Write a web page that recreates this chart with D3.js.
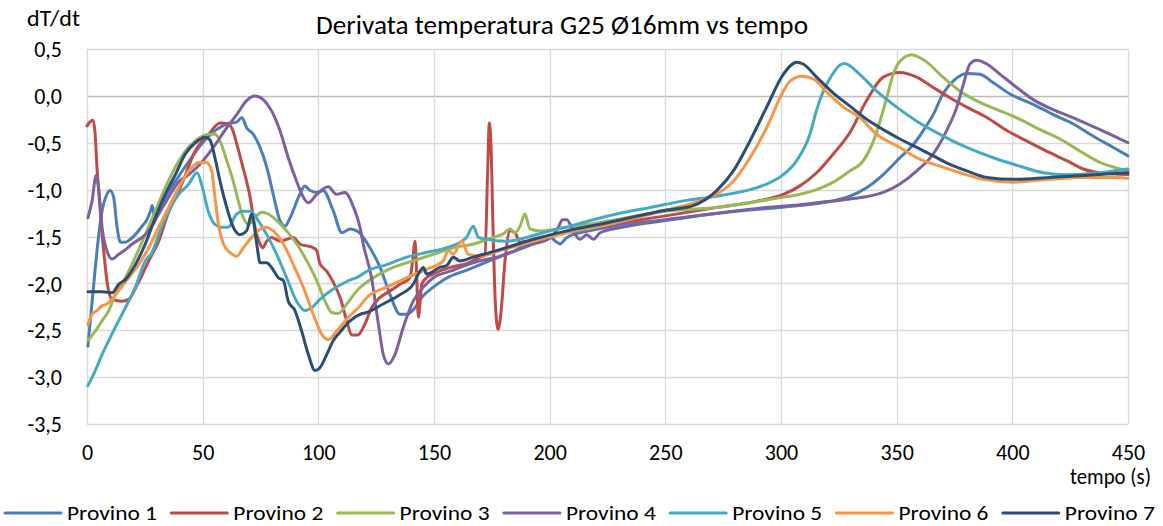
<!DOCTYPE html>
<html>
<head>
<meta charset="utf-8">
<script src="https://cdn.jsdelivr.net/npm/d3@7"></script>
<style>
  html, body { margin: 0; padding: 0; background: #fff; }
  svg { display: block; }
  text { font-family: Carlito, Calibri, "Liberation Sans Narrow", "Open Sans", sans-serif; fill: #000; }
</style>
</head>
<body>
<svg id="chart" width="1163" height="526"></svg>
<script>
// Rate of temperature change dT/dt for seven specimens, [time (s), dT/dt]
const provino1 = [[0.4,-2.67],[2,-2.25],[3.6,-1.83],[5,-1.5],[6.5,-1.23],[8.6,-1.05],[10,-1.01],[11.5,-1.08],[13,-1.40],[14.4,-1.56],[16.6,-1.56],[18.7,-1.53],[20.9,-1.48],[23.8,-1.39],[25.9,-1.32],[27.4,-1.23],[28.2,-1.17],[29.2,-1.30],[33,-1.12],[38,-0.92],[44,-0.70],[50,-0.50],[56,-0.36],[60.4,-0.30],[64.7,-0.28],[66.9,-0.23],[69,-0.34],[71.9,-0.41],[74.8,-0.55],[77.7,-0.76],[80.5,-1.05],[83.4,-1.33],[85.6,-1.39],[87.8,-1.30],[92,-1.05],[94.2,-0.96],[96.4,-1.01],[99.3,-1.03],[102.1,-1.01],[106.5,-1.23],[110.2,-1.46],[113.7,-1.42],[117.3,-1.45],[122.3,-1.62],[126.7,-1.83],[131,-2.12],[135.3,-2.33],[138.2,-2.33],[141.8,-2.26],[144.7,-2.15],[149.7,-2.04],[155,-1.95],[165,-1.85],[175,-1.75],[185,-1.65],[195,-1.52],[200,-1.50],[202.5,-1.55],[204.5,-1.58],[207,-1.52],[210,-1.48],[215,-1.45],[230,-1.38],[250,-1.32],[270,-1.26],[290,-1.21],[308,-1.17],[322.6,-1.12],[329.8,-1.07],[337,-0.98],[344.2,-0.84],[351.4,-0.66],[357.2,-0.52],[361.5,-0.37],[365.8,-0.20],[370,0.02],[374.5,0.16],[380.3,0.24],[386,0.23],[391.8,0.14],[399,0.02],[409,-0.09],[417.7,-0.20],[426.4,-0.30],[435,-0.43],[443.7,-0.55],[450,-0.64]];
const provino2 = [[0,-0.32],[1.2,-0.28],[2.6,-0.26],[3.5,-0.40],[4.3,-0.76],[5.4,-1.12],[6.5,-1.47],[7.6,-1.75],[8.6,-1.97],[10.8,-2.17],[15,-2.19],[18,-2.17],[22,-2.0],[26.7,-1.76],[31,-1.55],[35,-1.26],[41,-0.94],[46.7,-0.59],[52.6,-0.41],[57.5,-0.29],[61,-0.30],[63.2,-0.38],[64.7,-0.51],[67.5,-0.77],[70.5,-1.08],[72.6,-1.40],[74.8,-1.58],[76,-1.62],[77.7,-1.55],[79.8,-1.51],[83.4,-1.55],[89.2,-1.51],[92,-1.58],[97.8,-1.62],[99.3,-1.65],[100.7,-1.79],[103.6,-1.87],[106.5,-1.99],[109.4,-2.15],[112.3,-2.40],[114.4,-2.55],[117,-2.55],[120.2,-2.43],[123,-2.26],[126.7,-2.15],[131,-2.08],[135.3,-2.01],[139.6,-1.94],[140.8,-1.75],[141.8,-1.55],[142.5,-1.9],[143.2,-2.36],[144,-2.2],[144.7,-2.01],[146.8,-1.94],[149.7,-1.90],[157,-1.83],[164,-1.79],[170,-1.72],[172,-1.70],[173.2,-0.8],[173.9,-0.29],[174.6,-0.5],[175.6,-1.5],[176.5,-2.2],[177.7,-2.49],[179,-2.3],[180.7,-1.76],[182.9,-1.44],[185,-1.46],[187.2,-1.56],[195.8,-1.53],[200,-1.50],[220,-1.40],[250,-1.28],[270,-1.20],[290,-1.12],[301,-1.05],[308.2,-0.96],[315.4,-0.82],[322.6,-0.62],[329.8,-0.39],[337,-0.05],[344.2,0.20],[351.4,0.25],[358.7,0.20],[365.8,0.09],[373,-0.02],[380.3,-0.12],[389,-0.23],[397.6,-0.37],[406.2,-0.48],[414.8,-0.59],[423.5,-0.69],[430.7,-0.78],[437.9,-0.82],[450,-0.84]];
const provino3 = [[0.4,-2.61],[3.6,-2.51],[6.5,-2.40],[9.4,-2.29],[12.2,-2.12],[16.6,-1.94],[20.9,-1.72],[25.2,-1.48],[29.5,-1.23],[33.8,-0.98],[38.2,-0.76],[42.5,-0.59],[46.8,-0.48],[52.6,-0.41],[55.3,-0.41],[57.5,-0.48],[60.4,-0.69],[63.2,-0.91],[65.4,-1.12],[67.6,-1.30],[69.7,-1.37],[72.6,-1.30],[75.5,-1.24],[78.4,-1.26],[82,-1.33],[86.3,-1.44],[90.7,-1.58],[95,-1.76],[99.3,-1.97],[102.9,-2.19],[105.8,-2.31],[108.6,-2.32],[112.3,-2.22],[116.6,-2.08],[123.8,-1.94],[132.4,-1.83],[141,-1.76],[149.7,-1.69],[158.3,-1.62],[167,-1.58],[175.6,-1.51],[180,-1.47],[182.9,-1.42],[185,-1.46],[187.2,-1.39],[189.3,-1.26],[191.5,-1.42],[195.8,-1.44],[207.4,-1.40],[221.8,-1.35],[250,-1.23],[272,-1.19],[301,-1.08],[308.2,-1.05],[315.4,-1.0],[322.6,-0.92],[329.8,-0.80],[335.6,-0.69],[340,-0.48],[342.8,-0.27],[345.7,-0.02],[348.5,0.23],[351.4,0.37],[356.5,0.44],[363,0.36],[370,0.20],[377.4,0.05],[386,-0.07],[394.7,-0.16],[403.3,-0.25],[412,-0.36],[420.6,-0.46],[429.3,-0.59],[437.9,-0.71],[446.5,-0.78],[450,-0.80]];
const provino4 = [[0.4,-1.30],[2.2,-1.12],[3.9,-0.85],[5,-0.98],[6.5,-1.40],[8.6,-1.65],[10.8,-1.74],[13.7,-1.69],[16.6,-1.64],[19.5,-1.58],[23.8,-1.51],[26.7,-1.44],[31,-1.26],[35.3,-1.08],[39.6,-0.92],[44,-0.84],[48.8,-0.73],[54.6,-0.55],[60.4,-0.34],[64.7,-0.20],[69,-0.05],[72.6,0.0],[76.2,-0.04],[79.8,-0.16],[83.4,-0.37],[87,-0.66],[90.6,-0.91],[93.5,-1.08],[95.7,-1.14],[99.3,-1.05],[104.3,-0.97],[107.9,-1.05],[111.5,-1.03],[115.1,-1.18],[118,-1.40],[119.4,-1.58],[123,-1.94],[126,-2.44],[128.1,-2.76],[130.3,-2.86],[133.1,-2.76],[136.7,-2.47],[141,-2.19],[145.4,-2.04],[149.7,-1.94],[157,-1.87],[167,-1.78],[178.5,-1.71],[193,-1.58],[200,-1.52],[203.8,-1.40],[205.5,-1.32],[207.4,-1.32],[210.2,-1.44],[213.1,-1.53],[216,-1.48],[219,-1.53],[221.8,-1.46],[231.8,-1.40],[250,-1.33],[270,-1.26],[290,-1.20],[308.2,-1.16],[315.4,-1.14],[329.8,-1.10],[344.2,-1.03],[351.4,-0.94],[358.7,-0.80],[365.8,-0.62],[371.6,-0.37],[376,-0.12],[378.8,0.12],[381.7,0.34],[384.6,0.38],[389,0.34],[394.7,0.23],[401.9,0.09],[409,-0.04],[419,-0.16],[427.9,-0.25],[437.9,-0.36],[450,-0.50]];
const provino5 = [[0.4,-3.09],[3.6,-2.93],[6.5,-2.76],[9.4,-2.61],[12.2,-2.47],[16.6,-2.26],[20.9,-2.04],[25.2,-1.76],[28.1,-1.67],[31,-1.48],[35.3,-1.23],[39.6,-1.05],[44,-0.94],[47.6,-0.82],[49.7,-0.96],[52.4,-1.23],[55.3,-1.37],[58.2,-1.40],[61,-1.40],[64.7,-1.26],[67.6,-1.23],[70.5,-1.23],[74,-1.33],[77.7,-1.48],[82,-1.69],[86.3,-1.94],[90.6,-2.19],[94.2,-2.29],[97.1,-2.26],[100.7,-2.17],[106.5,-2.06],[112.3,-1.98],[118,-1.92],[121,-1.87],[129.6,-1.80],[138.2,-1.72],[146.8,-1.67],[155.5,-1.62],[164,-1.51],[167,-1.39],[169.2,-1.51],[172.8,-1.53],[181.4,-1.55],[193,-1.49],[200,-1.44],[207.4,-1.40],[214.5,-1.35],[229,-1.26],[243.4,-1.19],[257.8,-1.12],[272,-1.07],[286.6,-1.0],[293.8,-0.94],[301,-0.84],[306.8,-0.69],[312.5,-0.41],[315.4,-0.15],[318.3,0.05],[321.5,0.2],[325.5,0.33],[327.5,0.345],[334,0.23],[341.4,0.05],[350,-0.12],[358.7,-0.27],[368.7,-0.41],[380.3,-0.55],[391.8,-0.66],[403.3,-0.75],[413.4,-0.82],[423.5,-0.84],[437.9,-0.82],[450,-0.78]];
const provino6 = [[0.4,-2.44],[2.2,-2.33],[4.3,-2.29],[6.5,-2.24],[8.6,-2.22],[10.8,-2.17],[13.7,-2.08],[18,-1.94],[22.3,-1.80],[26.7,-1.62],[31,-1.40],[35.3,-1.19],[39.6,-0.98],[44,-0.80],[48.3,-0.71],[51.7,-0.71],[53.9,-0.80],[55.3,-1.08],[56.8,-1.37],[59,-1.58],[61.8,-1.67],[64.7,-1.71],[67.6,-1.62],[71.9,-1.49],[76.9,-1.40],[80.5,-1.44],[84.9,-1.58],[89.2,-1.80],[93.5,-2.04],[97.8,-2.33],[101.4,-2.54],[104.3,-2.60],[107.9,-2.51],[112.3,-2.38],[118,-2.24],[121,-2.15],[129.6,-2.04],[138.2,-1.94],[146.8,-1.85],[154,-1.76],[156.2,-1.65],[158.3,-1.69],[162,-1.55],[164.8,-1.69],[170,-1.71],[178.5,-1.65],[193,-1.55],[207.4,-1.46],[221.8,-1.39],[250,-1.22],[265,-1.12],[272,-1.05],[279.4,-0.91],[286.6,-0.66],[293.8,-0.34],[301,0.05],[304,0.16],[309,0.21],[314,0.18],[319.8,0.04],[327,-0.12],[334,-0.23],[341.4,-0.41],[351.4,-0.55],[358.7,-0.66],[368.7,-0.75],[377.4,-0.82],[387.5,-0.89],[400.4,-0.92],[416,-0.89],[430.7,-0.87],[445,-0.87],[450,-0.88]];
const provino7 = [[0.4,-2.09],[6.5,-2.09],[10.8,-2.10],[13.7,-2.01],[16.6,-1.96],[20.9,-1.80],[25.2,-1.58],[29.5,-1.30],[33.8,-1.05],[38.2,-0.84],[42.5,-0.62],[46.8,-0.50],[51.1,-0.44],[53.2,-0.47],[55.3,-0.66],[57.5,-0.91],[60.4,-1.19],[63.2,-1.40],[66.1,-1.48],[69,-1.44],[71.2,-1.26],[72.2,-1.37],[73.6,-1.62],[74.8,-1.78],[77.7,-1.78],[79.8,-1.83],[82.7,-1.94],[84.9,-1.97],[87,-2.19],[89.9,-2.29],[92.8,-2.51],[95.7,-2.76],[98.6,-2.93],[100.7,-2.90],[103.6,-2.76],[106.5,-2.61],[109.4,-2.52],[113.7,-2.40],[118,-2.33],[121,-2.31],[128,-2.22],[135.3,-2.12],[141,-2.01],[143.2,-1.90],[145.4,-1.83],[146.8,-1.90],[152.6,-1.83],[155.5,-1.81],[158.3,-1.72],[161.2,-1.76],[167,-1.72],[178.5,-1.64],[193,-1.53],[207.4,-1.44],[221.8,-1.37],[250,-1.22],[262,-1.17],[272.2,-1.01],[279.4,-0.80],[286.6,-0.48],[293.8,-0.12],[301,0.23],[306.8,0.36],[309.6,0.34],[315.4,0.20],[322.6,0.03],[329.8,-0.11],[337,-0.25],[344.2,-0.36],[351.4,-0.46],[358.7,-0.55],[365.8,-0.64],[373,-0.73],[380.3,-0.80],[389,-0.87],[400.4,-0.89],[416,-0.87],[430.7,-0.85],[450,-0.82]];

const seriesNames = ["Provino 1","Provino 2","Provino 3","Provino 4","Provino 5","Provino 6","Provino 7"];
const seriesData = [provino1, provino2, provino3, provino4, provino5, provino6, provino7];
const seriesColors = ["#4a7ebb","#be4b48","#98b954","#7d60a0","#46aac5","#f79646","#2c4d75"];

const xTicks = [0,50,100,150,200,250,300,350,400,450];
const yTicks = [0.5,0,-0.5,-1,-1.5,-2,-2.5,-3,-3.5];

const chartTitle = "Derivata temperatura G25 Ø16mm vs tempo";
const yTitle = "dT/dt";
const xTitle = "tempo (s)";

const svg = d3.select("#chart");
const W = 1163, H = 526;
const plot = { left: 87, right: 1128, top: 49, bottom: 424 };
const FONT = "Carlito, Calibri, 'Liberation Sans Narrow', 'Open Sans', sans-serif";

svg.append("rect").attr("width", W).attr("height", H).attr("fill", "#fff");

const x = d3.scaleLinear().domain([0, 450]).range([plot.left, plot.right]);
const y = d3.scaleLinear().domain([-3.5, 0.5]).range([plot.bottom, plot.top]);

const fmt = v => d3.format(".1f")(v).replace(".", ",").replace("−", "-");

// gridlines
const grid = svg.append("g");
grid.selectAll("line.h").data(yTicks).join("line")
  .attr("x1", plot.left).attr("x2", plot.right)
  .attr("y1", d => Math.round(y(d)) + 0.5).attr("y2", d => Math.round(y(d)) + 0.5)
  .attr("stroke", d => d === 0 ? "#bcbcbc" : "#d9d9d9").attr("stroke-width", 1.3);
grid.selectAll("line.v").data(xTicks).join("line")
  .attr("y1", plot.top).attr("y2", plot.bottom)
  .attr("x1", d => Math.round(x(d)) + 0.5).attr("x2", d => Math.round(x(d)) + 0.5)
  .attr("stroke", "#d9d9d9").attr("stroke-width", 1.3);

// axis labels (axis lines hidden; gridlines drawn above)
const yAxis = d3.axisLeft(y).tickValues(yTicks).tickFormat(fmt).tickSize(0).tickPadding(0);
svg.append("g").attr("transform", `translate(62,0)`).call(yAxis)
  .call(g => g.select(".domain").remove())
  .call(g => g.selectAll("text").attr("font-size", 22).attr("dy", "0.35em")
    .style("font-family", FONT).attr("fill", "#000"));

const xAxis = d3.axisBottom(x).tickValues(xTicks).tickFormat(d => d).tickSize(0).tickPadding(0);
svg.append("g").attr("transform", `translate(0,444)`).call(xAxis)
  .call(g => g.select(".domain").remove())
  .call(g => g.selectAll("text").attr("font-size", 22).attr("dy", "0.71em")
    .style("font-family", FONT).attr("fill", "#000"));

// series
const line = d3.line().x(d => x(d[0])).y(d => y(d[1])).curve(d3.curveMonotoneX);
svg.append("clipPath").attr("id", "plotclip").append("rect")
  .attr("x", plot.left - 2).attr("y", plot.top - 4).attr("width", plot.right - plot.left + 4).attr("height", plot.bottom - plot.top + 8);
svg.append("g").attr("clip-path", "url(#plotclip)")
  .selectAll("path").data(seriesData).join("path")
  .attr("d", line)
  .attr("fill", "none")
  .attr("stroke", (d, i) => seriesColors[i])
  .attr("stroke-width", 3)
  .attr("stroke-linejoin", "round")
  .attr("stroke-linecap", "round");

// titles
svg.append("text").attr("x", 316).attr("y", 34).attr("font-size", 26)
  .attr("textLength", 492).attr("lengthAdjust", "spacingAndGlyphs").text(chartTitle);
svg.append("text").attr("x", 27).attr("y", 26).attr("font-size", 22)
  .attr("textLength", 53).attr("lengthAdjust", "spacingAndGlyphs").text(yTitle);
svg.append("text").attr("x", 1070).attr("y", 484).attr("font-size", 22)
  .attr("textLength", 81).attr("lengthAdjust", "spacingAndGlyphs").text(xTitle);

// legend
const legend = svg.append("g");
const items = legend.selectAll("g").data(seriesNames).join("g")
  .attr("transform", (d, i) => `translate(${5 + i * 166.3},513)`);
items.append("line").attr("x1", 0).attr("x2", 56).attr("y1", 0).attr("y2", 0)
  .attr("stroke", (d, i) => seriesColors[i]).attr("stroke-width", 3).attr("stroke-linecap", "round");
items.append("text").attr("x", 62).attr("y", 0).attr("dy", "0.33em").attr("font-size", 20.5)
  .attr("textLength", 90).attr("lengthAdjust", "spacingAndGlyphs").text(d => d);
</script>
</body>
</html>
